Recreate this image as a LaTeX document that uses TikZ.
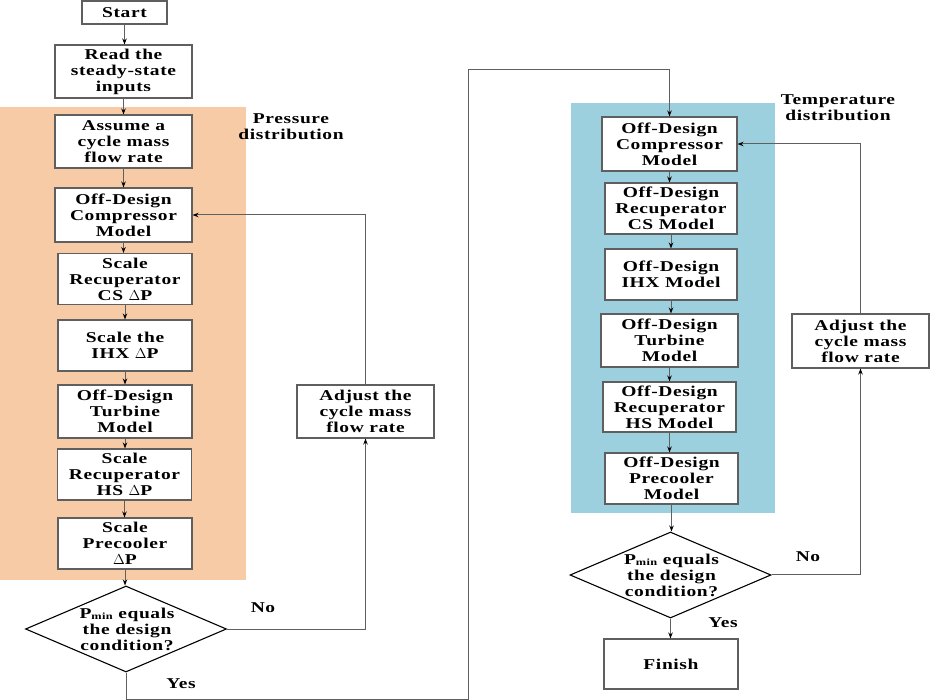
\documentclass[tikz,border=0pt]{standalone}
\usepackage{fontspec}
\setmainfont{Liberation Serif}[FakeStretch=1.3,LetterSpace=4]
\usetikzlibrary{shapes.geometric,arrows.meta}
\definecolor{orangebg}{RGB}{248,203,167}
\definecolor{bluebg}{RGB}{156,208,222}
\definecolor{linegray}{RGB}{95,95,95}
\newcommand\pminlbl{P\raisebox{-1.5pt}{\fontsize{9.5}{9.5}\selectfont min}}
\begin{document}
\begin{tikzpicture}[x=1pt,y=-1pt,
  txt/.style={font=\fontsize{15}{16}\selectfont\bfseries, align=center, inner sep=0pt},
  box/.style={txt, draw=linegray, line width=1.1pt, fill=white, minimum width=134pt, minimum height=51pt},
  decision/.style={diamond, draw=black, line width=1.1pt, fill=white, inner sep=0pt, aspect=2.34, minimum width=201pt, minimum height=86pt},
  arr/.style={draw=linegray, line width=1pt, -{Stealth[length=6pt,width=4.5pt,color=black]}},
  lbl/.style={txt}]
\useasboundingbox (0,0) rectangle (930,700);
\fill[white] (0,0) rectangle (930,700);
% background regions
\fill[orangebg] (0,107) rectangle (246,580);
\fill[bluebg] (571,103) rectangle (775,513);
\node[lbl] (ptitle) at (291,127) {Pressure\\distribution};
\node[lbl] (ttitle) at (838,108) {Temperature\\distribution};
% left column
\node[box, minimum width=85pt, minimum height=23pt] (start) at (124.5,12.5) {Start};
\node[box, minimum width=137pt, minimum height=53pt] (read) at (123.5,71.5) {Read the\\steady-state\\inputs};
\node[box, minimum width=137pt, minimum height=53pt] (assume) at (123.5,141.5) {Assume a\\cycle mass\\flow rate};
\node[box, minimum width=137pt, minimum height=54pt] (comp) at (123.5,215) {Off-Design\\Compressor\\Model};
\node[box] (cs) at (125,279) {Scale\\Recuperator\\CS $\Delta$P};
\node[box] (ihx) at (125,345.5) {Scale the\\IHX $\Delta$P};
\node[box, minimum height=53pt] (turb) at (125,411.5) {Off-Design\\Turbine\\Model};
\node[box] (hs) at (124.5,474.5) {Scale\\Recuperator\\HS $\Delta$P};
\node[box] (pre) at (125,543.5) {Scale\\Precooler\\$\Delta$P};
\node[decision] (dia1) at (126,629) {};
\node[txt] (dia1t) at (127,629) {\pminlbl{} equals\\the design\\condition?};
\node[box, minimum width=137pt, minimum height=53pt] (adj1) at (365.5,411.5) {Adjust the\\cycle mass\\flow rate};
\node[lbl] (no1) at (263,608) {No};
\node[lbl] (yes1) at (181,684) {Yes};
% right column
\node[box, minimum width=135pt, minimum height=54pt] (rcomp) at (669.5,144) {Off-Design\\Compressor\\Model};
\node[box, minimum width=132pt] (rcs) at (671,208.5) {Off-Design\\Recuperator\\CS Model};
\node[box, minimum width=132pt] (rihx) at (671,274.5) {Off-Design\\IHX Model};
\node[box, minimum width=137pt, minimum height=53pt] (rturb) at (669.5,340.5) {Off-Design\\Turbine\\Model};
\node[box, minimum width=133pt, minimum height=50pt] (rhs) at (669.5,407) {Off-Design\\Recuperator\\HS Model};
\node[box, minimum width=133pt] (rpre) at (671.5,478.5) {Off-Design\\Precooler\\Model};
\node[decision] (dia2) at (670.5,575) {};
\node[txt] (dia2t) at (671.5,575) {\pminlbl{} equals\\the design\\condition?};
\node[box, minimum width=134pt, minimum height=50pt] (finish) at (671,664) {Finish};
\node[box, minimum width=137pt, minimum height=54pt] (adj2) at (860.5,341) {Adjust the\\cycle mass\\flow rate};
\node[lbl] (no2) at (808,557) {No};
\node[lbl] (yes2) at (723,623) {Yes};
% coordinates for the long connector
\coordinate (c1) at (468,699);
\coordinate (c2) at (468,70);
% left connectors
\draw[arr] (start) -- (start.south |- read.north);
\draw[arr] (read) -- (read.south |- assume.north);
\draw[arr] (assume) -- (assume.south |- comp.north);
\draw[arr] (comp.south) -- (comp.south |- cs.north);
\draw[arr] (cs.south) -- (cs.south |- ihx.north);
\draw[arr] (ihx.south) -- (ihx.south |- turb.north);
\draw[arr] (turb.south) -- (turb.south |- hs.north);
\draw[arr] (hs.south) -- (hs.south |- pre.north);
\draw[arr] (pre.south) -- (pre.south |- dia1.north);
\draw[arr] (dia1.east) -| (adj1.south);
\draw[arr] (adj1.north) |- (comp.east);
\draw[arr] (dia1.south) |- (c1) -- (c2) -| (rcomp.north);
% right connectors
\draw[arr] (rcomp.south) -- (rcomp.south |- rcs.north);
\draw[arr] (rcs.south) -- (rcs.south |- rihx.north);
\draw[arr] (rihx.south) -- (rihx.south |- rturb.north);
\draw[arr] (rturb.south) -- (rturb.south |- rhs.north);
\draw[arr] (rhs.south) -- (rhs.south |- rpre.north);
\draw[arr] (rpre.south) -- (rpre.south |- dia2.north);
\draw[arr] (dia2.south) -- (dia2.south |- finish.north);
\draw[arr] (dia2.east) -| (adj2.south);
\draw[arr] (adj2.north) |- (rcomp.east);
\end{tikzpicture}
\end{document}
